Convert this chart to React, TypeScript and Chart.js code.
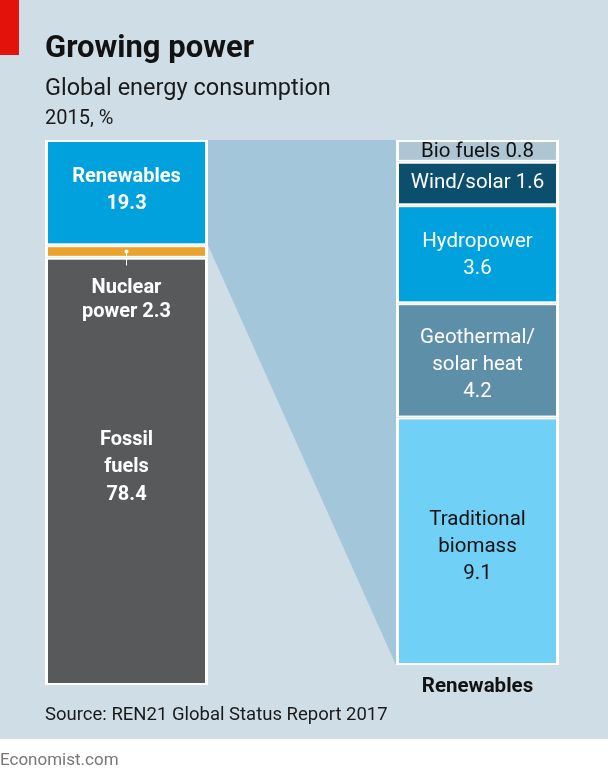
import React, { useEffect, useRef } from "react";
import { Chart, registerables } from "chart.js";

Chart.register(...registerables);

// ---- data ----
const barCategories = ["Total", "", "Renewables"];
const totalNames = ["Fossil fuels", "Nuclear power", "Renewables"];
const totalValues = [78.4, 2.3, 19.3];
const totalLabels = ["Fossil|fuels|{v}", "Nuclear|power {v}", "Renewables|{v}"];
const renewNames = ["Traditional biomass", "Geothermal/solar heat", "Hydropower", "Wind/solar", "Bio fuels"];
const renewValues = [9.1, 4.2, 3.6, 1.6, 0.8];
const renewLabels = ["Traditional|biomass|{v}", "Geothermal/|solar heat|{v}", "Hydropower|{v}", "Wind/solar {v}", "Bio fuels {v}"];

const titleText = "Growing power";
const subtitleText = "Global energy consumption";
const unitText = "2015, %";
const sourceText = "Source: REN21 Global Status Report 2017";
const brandText = "Economist.com";

// ---- styles ----
const FONT = "Roboto";
const BG = "#cedde6";
const totalColors = ["#58595b", "#eba32c", "#00a1dd"];
const totalTextColors = ["#ffffff", "#ffffff", "#ffffff"];
const renewColors = ["#70d0f6", "#5e8fa8", "#00a1dd", "#0b4e6e", "#aec6d4"];
const renewTextColors = ["#111111", "#ffffff", "#ffffff", "#ffffff", "#111111"];
const renewLabelShift = [6, 5, 1, -1, 1];

const W = 608;
const H = 776;

const fmt = (v: number) => v.toFixed(1);

const backgroundPlugin = {
  id: "bgText",
  beforeDraw(chart: any) {
    const ctx = chart.ctx;
    ctx.save();
    ctx.fillStyle = "#ffffff";
    ctx.fillRect(0, 0, W, H);
    ctx.fillStyle = BG;
    ctx.fillRect(0, 0, W, 739);
    ctx.fillStyle = "#e3120b";
    ctx.fillRect(0, 0, 19, 55);
    ctx.textAlign = "left";
    ctx.textBaseline = "alphabetic";
    ctx.fillStyle = "#121212";
    ctx.font = `bold 31px ${FONT}`;
    ctx.fillText(titleText, 45, 57);
    ctx.fillStyle = "#1a1a1a";
    ctx.font = `23.5px ${FONT}`;
    ctx.fillText(subtitleText, 45, 95);
    ctx.font = `20px ${FONT}`;
    ctx.fillText(unitText, 45, 124);
    ctx.font = `18.5px ${FONT}`;
    ctx.fillText(sourceText, 45, 720);
    ctx.fillStyle = "#777777";
    ctx.font = `17px ${FONT}`;
    ctx.fillText(brandText, 0, 765);
    ctx.restore();
  },
};

const wedgePlugin = {
  id: "wedge",
  beforeDatasetsDraw(chart: any) {
    const ctx = chart.ctx;
    const left = chart.getDatasetMeta(totalValues.length - 1).data[0];
    const rTop = chart.getDatasetMeta(totalValues.length + renewValues.length - 1).data[2];
    const rBot = chart.getDatasetMeta(totalValues.length).data[2];
    if (!left || !rTop || !rBot) return;
    const lx = left.x + left.width / 2;
    const rx = rTop.x - rTop.width / 2;
    ctx.save();
    ctx.fillStyle = "#a3c6da";
    ctx.beginPath();
    ctx.moveTo(lx, left.y);
    ctx.lineTo(rx, rTop.y);
    ctx.lineTo(rx, rBot.base);
    ctx.lineTo(lx, left.base);
    ctx.closePath();
    ctx.fill();
    ctx.restore();
  },
};

const labelPlugin = {
  id: "segLabels",
  afterDatasetsDraw(chart: any) {
    const ctx = chart.ctx;
    ctx.save();
    ctx.textAlign = "center";
    ctx.textBaseline = "middle";
    // left bar
    totalValues.forEach((v, i) => {
      const el = chart.getDatasetMeta(i).data[0];
      if (!el) return;
      const lines = totalLabels[i].replace("{v}", fmt(v)).split("|");
      ctx.fillStyle = totalTextColors[i];
      ctx.font = `bold 20px ${FONT}`;
      const cy = (el.y + el.base) / 2;
      if (i === 1) {
        // leader line below the thin bar
        ctx.strokeStyle = "#ffffff";
        ctx.lineWidth = 1;
        ctx.beginPath();
        ctx.moveTo(el.x, cy);
        ctx.lineTo(el.x, cy + 14);
        ctx.stroke();
        ctx.beginPath();
        ctx.arc(el.x, cy, 2, 0, Math.PI * 2);
        ctx.fill();
        lines.forEach((ln, k) => ctx.fillText(ln, el.x, cy + 37 + k * 24));
      } else {
        const lh = 27.5;
        const start = cy - ((lines.length - 1) * lh) / 2 - (i === 0 ? 4 : 2);
        lines.forEach((ln, k) => ctx.fillText(ln, el.x, start + k * lh));
      }
    });
    // right bar
    renewValues.forEach((v, i) => {
      const el = chart.getDatasetMeta(totalValues.length + i).data[2];
      if (!el) return;
      const lines = renewLabels[i].replace("{v}", fmt(v)).split("|");
      ctx.fillStyle = renewTextColors[i];
      ctx.font = `20.5px ${FONT}`;
      const cy = (el.y + el.base) / 2;
      const lh = 27;
      const start = cy - ((lines.length - 1) * lh) / 2 + renewLabelShift[i];
      lines.forEach((ln, k) => ctx.fillText(ln, el.x, start + k * lh));
    });
    // axis caption under right bar
    const rb = chart.getDatasetMeta(totalValues.length).data[2];
    if (rb) {
      ctx.fillStyle = "#121212";
      ctx.font = `bold 20.5px ${FONT}`;
      ctx.textBaseline = "alphabetic";
      ctx.fillText(barCategories[2], rb.x, 692);
    }
    ctx.restore();
  },
};

export default function App() {
  const ref = useRef<HTMLCanvasElement | null>(null);
  useEffect(() => {
    if (!ref.current) return;
    const border = { top: 2, bottom: 2, left: 3, right: 3 };
    const barPct = 163 / 175.5;
    const renewSum = renewValues.reduce((a, b) => a + b, 0);
    const datasets: any[] = [];
    totalValues.forEach((v, i) => {
      datasets.push({
        label: totalNames[i],
        data: [v, null, null],
        yAxisID: "y",
        backgroundColor: totalColors[i],
        borderColor: "#ffffff",
        borderWidth: border,
        borderSkipped: false,
        barPercentage: barPct,
        categoryPercentage: 1,
      });
    });
    renewValues.forEach((v, i) => {
      datasets.push({
        label: renewNames[i],
        data: [null, null, v],
        yAxisID: "y2",
        backgroundColor: renewColors[i],
        borderColor: "#ffffff",
        borderWidth: border,
        borderSkipped: false,
        barPercentage: barPct,
        categoryPercentage: 1,
      });
    });
    const chart = new Chart(ref.current, {
      type: "bar",
      data: { labels: barCategories, datasets },
      options: {
        animation: false,
        responsive: false,
        devicePixelRatio: 1,
        layout: { padding: { left: 38.75, right: 42.75, top: 140, bottom: 91 } },
        plugins: { legend: { display: false }, tooltip: { enabled: false } },
        scales: {
          x: { type: "category", display: false, stacked: true, grid: { display: false } },
          y: { display: false, stacked: true, min: 0, max: 100 },
          y2: { display: false, stacked: true, min: -renewSum * (20 / 525), max: renewSum },
        },
      },
      plugins: [backgroundPlugin, wedgePlugin, labelPlugin],
    });
    return () => chart.destroy();
  }, []);
  return (
    <div style={{ position: "absolute", left: 0, top: 0, width: W, height: H }}>
      <canvas ref={ref} width={W} height={H} style={{ display: "block", width: W, height: H }} />
    </div>
  );
}
